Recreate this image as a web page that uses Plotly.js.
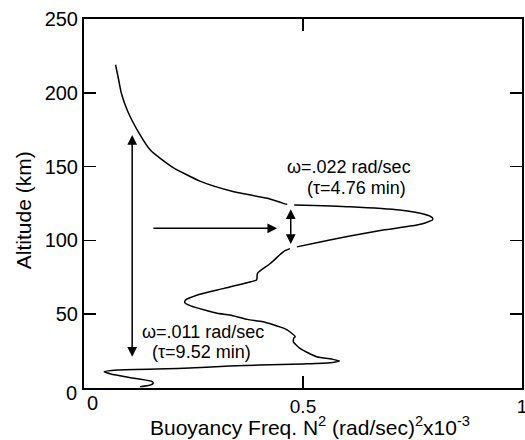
<!DOCTYPE html>
<html>
<head>
<meta charset="utf-8">
<script src="https://cdn.plot.ly/plotly-3.0.1.min.js"></script>
<style>html,body{margin:0;padding:0;background:#fff;}#chart{width:525px;height:440px;}</style>
</head>
<body>
<div id="chart"></div>
<script>
// Altitude (km) and buoyancy frequency N^2 (rad/sec)^2 x10^-3
// (null entries leave the small white breaks where the short arrow touches the curve)
const altitude = [219, 209, 200, 188, 172.5, 161, 150, 140, 133, 128.5, 125.1, 124.4, null, 124.0, 122.8, 120.6, 117.9, 115.5, 114, 112.5, 110.4, 107, 103, 98.4, 95.6, null, 94.4, 92.3, 84.5, 77.7, 74.5, 73.2, 72, 67.5, 63, 59.6, 58, 55.6, 50.6, 49.5, 46.5, 44.9, 40.4, 38.1, 34.8, 33.7, 31.4, 26.9, 21.2, 19.4, 18.3, 17.1, 16.3, 15.5, 14.9, 13.3, 12.2, 11, 9.5, 6.6, 4.3, 3.2, 2, 0.9];
const n2 = [0.072, 0.079, 0.085, 0.099, 0.126, 0.152, 0.200, 0.266, 0.342, 0.419, 0.455, 0.464, null, 0.480, 0.607, 0.721, 0.775, 0.795, 0.796, 0.785, 0.760, 0.683, 0.607, 0.531, 0.486, null, 0.470, 0.455, 0.426, 0.396, 0.395, 0.394, 0.381, 0.320, 0.259, 0.232, 0.230, 0.244, 0.304, 0.333, 0.373, 0.409, 0.457, 0.470, 0.482, 0.479, 0.478, 0.493, 0.531, 0.569, 0.583, 0.562, 0.500, 0.400, 0.333, 0.228, 0.076, 0.046, 0.061, 0.114, 0.156, 0.158, 0.152, 0.128];

const xTickVals = [0.5, 1];
const xTickText = ['0.5', '1'];
const yTickVals = [50, 100, 150, 200, 250];
const yTickText = ['50', '100', '150', '200', '250'];
const zeroLabel = '0';

// arrows: tip and tail in data units; double-headed or not
const arrowTipX  = [0.110, 0.441, 0.472];
const arrowTipY  = [171.4, 108.2, 121.1];
const arrowTailX = [0.110, 0.155, 0.472];
const arrowTailY = [20.1, 108.2, 96.5];
const arrowDouble = [true, false, true];

const labelText = ['ω=.022 rad/sec', '(τ=4.76 min)', 'ω=.011 rad/sec', '(τ=9.52 min)'];
const labelX = [0.605, 0.623, 0.272, 0.268];
const labelY = [149.9, 135.5, 38.1, 24.6];

const xTitle = 'Buoyancy Freq. N<sup>2</sup> (rad/sec)<sup>2</sup>x10<sup>-3</sup>';
const yTitle = 'Altitude (km)';

const FONT = 'Liberation Sans, Arial, Helvetica, sans-serif';

const annotations = [];
for (let i = 0; i < arrowTipX.length; i++) {
  annotations.push({
    x: arrowTipX[i], y: arrowTipY[i], ax: arrowTailX[i], ay: arrowTailY[i],
    xref: 'x', yref: 'y', axref: 'x', ayref: 'y',
    showarrow: true, text: '',
    arrowhead: 2, startarrowhead: 2, arrowsize: 1.3, startarrowsize: 1.3, arrowwidth: 1.5,
    arrowcolor: '#000', arrowside: arrowDouble[i] ? 'end+start' : 'end',
    standoff: 0, startstandoff: 0
  });
}
for (let i = 0; i < labelText.length; i++) {
  annotations.push({
    x: labelX[i], y: labelY[i], xref: 'x', yref: 'y', text: labelText[i],
    showarrow: false, xanchor: 'center', yanchor: 'middle',
    font: {family: FONT, size: 18, color: '#000'}
  });
}
annotations.push({
  xref: 'paper', yref: 'paper', x: 0.515, y: -52 / 369, xanchor: 'center', yanchor: 'bottom',
  text: xTitle, showarrow: false, borderpad: 0,
  font: {family: FONT, size: 21, color: '#000'}
});
annotations.push({
  xref: 'paper', yref: 'paper', x: (23 - 84) / 438, y: 0.482, xanchor: 'center', yanchor: 'middle',
  text: yTitle, textangle: -90, showarrow: false,
  font: {family: FONT, size: 21, color: '#000'}
});
annotations.push({
  xref: 'paper', yref: 'paper', x: (92 - 84) / 438, y: -15 / 369, xanchor: 'center', yanchor: 'middle',
  text: zeroLabel, showarrow: false, font: {family: FONT, size: 20, color: '#000'}
});
annotations.push({
  xref: 'paper', yref: 'paper', x: (71 - 84) / 438, y: -5 / 369, xanchor: 'center', yanchor: 'middle',
  text: zeroLabel, showarrow: false, font: {family: FONT, size: 20, color: '#000'}
});

const trace = {
  x: n2, y: altitude, type: 'scatter', mode: 'lines', connectgaps: false,
  line: {color: '#000', width: 1.5, shape: 'spline', smoothing: 0.6},
  hoverinfo: 'skip', cliponaxis: false
};

const axisCommon = {
  showgrid: false, zeroline: false, showline: true, linecolor: '#000', linewidth: 2,
  mirror: 'ticks', ticks: 'inside', ticklen: 12, tickwidth: 1.5, tickcolor: '#000',
  tickfont: {family: FONT, size: 20, color: '#000'}, ticklabeloverflow: 'allow'
};

const layout = {
  width: 525, height: 440,
  margin: {l: 84, r: 3, t: 19, b: 52},
  paper_bgcolor: '#fff', plot_bgcolor: '#fff',
  showlegend: false,
  xaxis: Object.assign({}, axisCommon, {range: [0, 1], tickmode: 'array', tickvals: xTickVals, ticktext: xTickText,
    tickfont: {family: FONT, size: 19, color: '#000'}}),
  yaxis: Object.assign({}, axisCommon, {range: [0, 250], tickmode: 'array', tickvals: yTickVals, ticktext: yTickText}),
  annotations: annotations
};

Plotly.newPlot('chart', [trace], layout, {displayModeBar: false, staticPlot: true});
</script>
</body>
</html>
